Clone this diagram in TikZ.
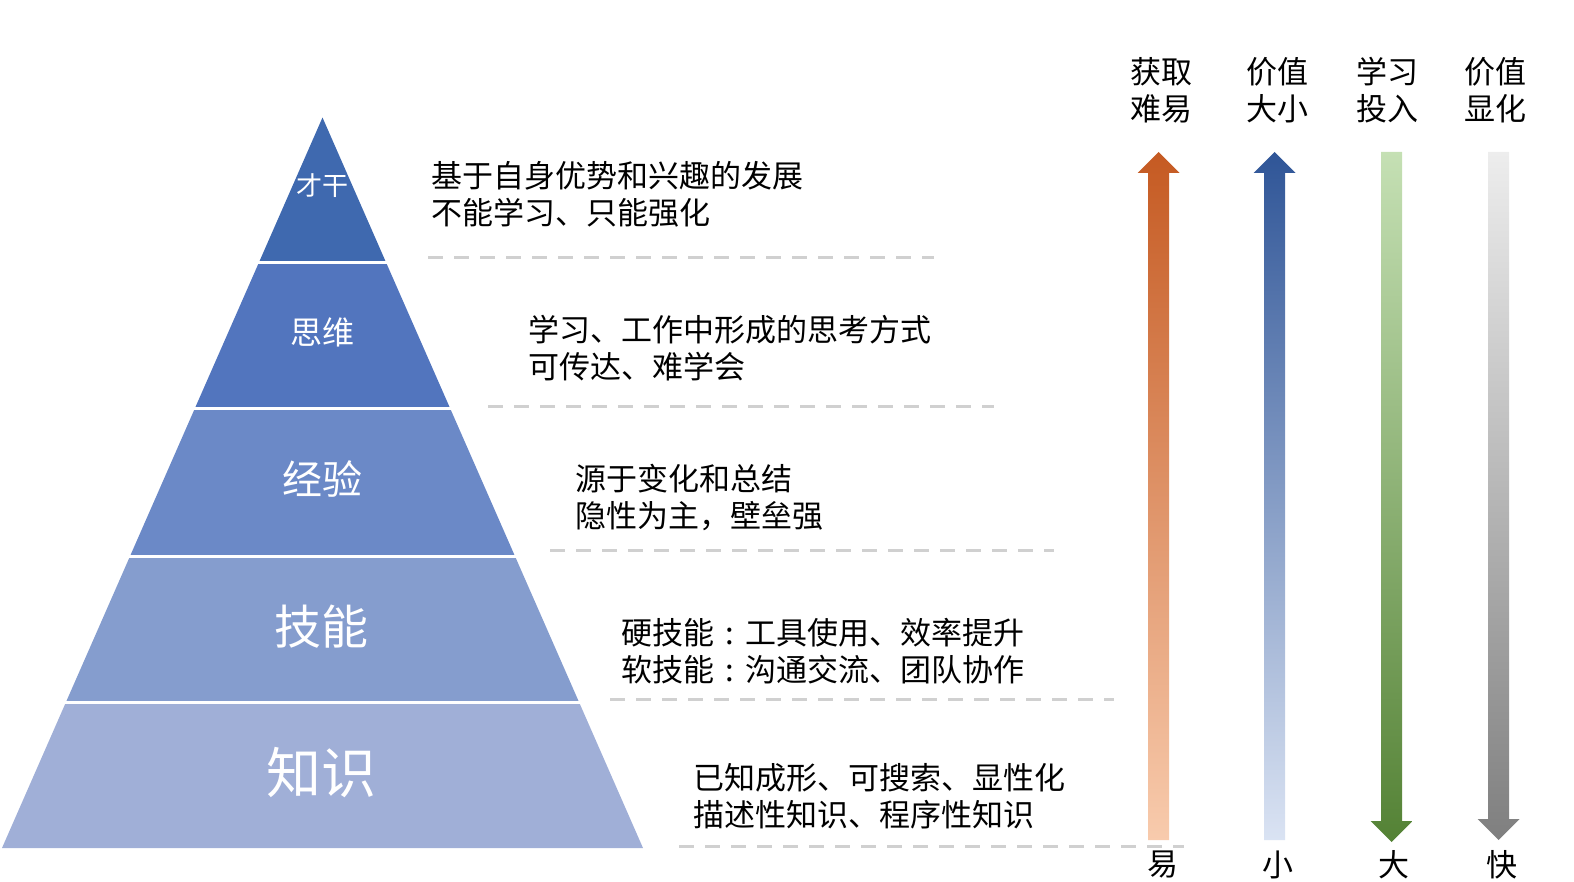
\documentclass[tikz,border=0pt]{standalone}
\usepackage{fontspec}
\setmainfont{Noto Sans CJK SC}
\definecolor{lay1}{HTML}{3F69AF}
\definecolor{lay2}{HTML}{5275BE}
\definecolor{lay3}{HTML}{6B89C7}
\definecolor{lay4}{HTML}{859DCE}
\definecolor{lay5}{HTML}{A0AFD7}
\definecolor{dashgray}{HTML}{D0D0D0}
\definecolor{orTop}{HTML}{C55A22}
\definecolor{orBot}{HTML}{F8CBAD}
\definecolor{blTop}{HTML}{2F5597}
\definecolor{blBot}{HTML}{DAE3F3}
\definecolor{grTop}{HTML}{C5E0B4}
\definecolor{grBot}{HTML}{548235}
\definecolor{gyTop}{HTML}{EDEDED}
\definecolor{gyBot}{HTML}{7F7F7F}
\newcommand{\ccolon}{\makebox[1em][c]{:}}
\begin{document}
\begin{tikzpicture}[x=0.5pt,y=-0.5pt,
  desc/.style={anchor=west,align=left,inner sep=0pt,font=\fontsize{15.5}{18.5}\selectfont},
  lvl/.style={text=white,inner sep=0pt},
  head/.style={align=center,inner sep=0pt,font=\fontsize{15.5}{18.5}\selectfont},
  sep/.style={dashgray,line width=1.5pt,dash pattern=on 7.5pt off 5.5pt},
  gapline/.style={white,line width=1.5pt}]
\useasboundingbox (0,0) rectangle (1574,882);
% pyramid layers
\fill[lay1] (322.5,117.5) -- (386.3,263) -- (258.7,263) -- cycle;
\fill[lay2] (258.7,263) -- (386.3,263) -- (450.2,408.5) -- (194.8,408.5) -- cycle;
\fill[lay3] (194.8,408.5) -- (450.2,408.5) -- (514.9,556) -- (130.1,556) -- cycle;
\fill[lay4] (130.1,556) -- (514.9,556) -- (579.2,702.5) -- (65.8,702.5) -- cycle;
\fill[lay5] (65.8,702.5) -- (579.2,702.5) -- (643,848) -- (2,848) -- cycle;
\draw[gapline] (250,263) -- (395,263);
\draw[gapline] (186,408.5) -- (459,408.5);
\draw[gapline] (121,556) -- (524,556);
\draw[gapline] (56,702.5) -- (589,702.5);
% level labels
\node[lvl,font=\fontsize{13}{13}\selectfont] (l1) at (322.5,186) {才干};
\node[lvl,font=\fontsize{16}{16}\selectfont] (l2) at (322.5,332) {思维};
\node[lvl,font=\fontsize{20}{20}\selectfont] (l3) at (322.5,479) {经验};
\node[lvl,font=\fontsize{23.5}{23.5}\selectfont] (l4) at (321.5,627) {技能};
\node[lvl,font=\fontsize{27.5}{27.5}\selectfont] (l5) at (321.5,773) {知识};
% descriptions
\node[desc] (t1) at (431,194.5) {基于自身优势和兴趣的发展\\不能学习、只能强化};
\node[desc] (t2) at (528,348.5) {学习、工作中形成的思考方式\\可传达、难学会};
\node[desc] (t3) at (575,497) {源于变化和总结\\隐性为主，壁垒强};
\node[desc] (t4) at (621,651.5) {硬技能\ccolon 工具使用、效率提升\\软技能\ccolon 沟通交流、团队协作};
\node[desc] (t5) at (693,796) {已知成形、可搜索、显性化\\描述性知识、程序性知识};
% dashed separators
\coordinate (d1a) at (428,258); \coordinate (d1b) at (934,258);
\coordinate (d2a) at (488,406.5); \coordinate (d2b) at (994,406.5);
\coordinate (d3a) at (550,550); \coordinate (d3b) at (1054,550);
\coordinate (d4a) at (610,699.5); \coordinate (d4b) at (1114,699.5);
\coordinate (d5a) at (679,846); \coordinate (d5b) at (1184,846);
\draw[sep] (d1a) -- (d1b);
\draw[sep] (d2a) -- (d2b);
\draw[sep] (d3a) -- (d3b);
\draw[sep] (d4a) -- (d4b);
\draw[sep] (d5a) -- (d5b);
% arrows
\shade[top color=orTop,bottom color=orBot]
  (1148,840) -- (1148,173) -- (1137.5,173) -- (1158.5,152) -- (1179.5,173) -- (1169,173) -- (1169,840) -- cycle;
\shade[top color=blTop,bottom color=blBot]
  (1264,840) -- (1264,173) -- (1253.5,173) -- (1274.5,152) -- (1295.5,173) -- (1285,173) -- (1285,840) -- cycle;
\shade[top color=grTop,bottom color=grBot]
  (1381,152) -- (1381,821) -- (1370.5,821) -- (1391.5,842) -- (1412.5,821) -- (1402,821) -- (1402,152) -- cycle;
\shade[top color=gyTop,bottom color=gyBot]
  (1488,152) -- (1488,819) -- (1477.5,819) -- (1498.5,840) -- (1519.5,819) -- (1509,819) -- (1509,152) -- cycle;
% headings
\node[head] (h1) at (1161,90.5) {获取\\难易};
\node[head] (h2) at (1277,90.5) {价值\\大小};
\node[head] (h3) at (1387,90.5) {学习\\投入};
\node[head] (h4) at (1495,90.5) {价值\\显化};
\node[head] (b1) at (1163,865) {易};
\node[head] (b2) at (1278,865) {小};
\node[head] (b3) at (1394,865) {大};
\node[head] (b4) at (1502,865) {快};
\end{tikzpicture}
\end{document}
